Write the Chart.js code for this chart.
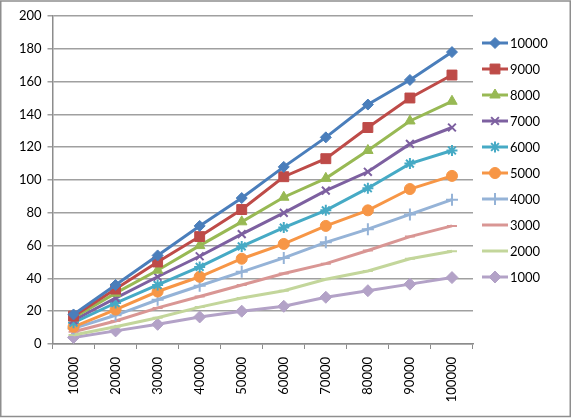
<!DOCTYPE html>
<html>
<head>
<meta charset="utf-8">
<script src="https://cdn.jsdelivr.net/npm/chart.js@4.4.1/dist/chart.umd.min.js"></script>
<style>
  html, body { margin: 0; padding: 0; background: #fff; }
  #wrap { width: 572px; height: 418px; position: relative; }
</style>
</head>
<body>
<div id="wrap"><canvas id="chart"></canvas></div>
<script>
const categories = ['10000', '20000', '30000', '40000', '50000', '60000', '70000', '80000', '90000', '100000'];
const yTicks = [0, 20, 40, 60, 80, 100, 120, 140, 160, 180, 200];

const s10000 = [18, 36, 54, 72, 89, 108, 126, 146, 161, 178];
const s9000 = [17, 33.5, 50, 65.5, 82, 102, 113, 132, 150, 164];
const s8000 = [16, 31, 45, 60, 74.5, 89.5, 101, 118, 136, 148];
const s7000 = [14.5, 28, 41, 53.5, 67, 80, 93.5, 105, 122, 132];
const s6000 = [13, 25, 36, 47, 59.5, 71, 81.5, 95, 110, 118];
const s5000 = [10.5, 21, 32, 41, 52, 61, 72, 81.5, 94.5, 102.5];
const s4000 = [9.5, 17.5, 27, 35.5, 44, 52.5, 62, 70, 79, 88];
const s3000 = [7.5, 14, 22, 29, 36, 43, 49, 57, 65.5, 72];
const s2000 = [5.5, 10.5, 16, 22.5, 28, 32.5, 39.5, 44.5, 52, 56.5];
const s1000 = [4, 8, 12, 16.5, 20, 23, 28.5, 32.5, 36.5, 40.5];

const seriesNames = ['10000', '9000', '8000', '7000', '6000', '5000', '4000', '3000', '2000', '1000'];
const seriesValues = [s10000, s9000, s8000, s7000, s6000, s5000, s4000, s3000, s2000, s1000];
const seriesColors = ['#4A7EBB', '#BE4B48', '#98B954', '#7D60A0', '#46AAC5', '#F79646', '#95B3D7', '#D99694', '#C3D69B', '#B3A2C7'];
const seriesMarkers = ['rectRot', 'rect', 'triangle', 'crossRot', 'star', 'circle', 'cross', 'line', 'line', 'rectRot'];
const markerSizes = [5.5, 7, 6, 5.5, 5.5, 5.5, 6, 5, 5, 6];

const FONT = 'Lato, "Liberation Sans", sans-serif';
const thinMarkers = ['crossRot', 'star', 'cross', 'line'];

const datasets = seriesNames.map((name, i) => ({
  label: name,
  data: seriesValues[i],
  borderColor: seriesColors[i],
  backgroundColor: seriesColors[i],
  borderWidth: 3,
  pointStyle: seriesMarkers[i],
  pointRadius: markerSizes[i],
  pointBorderWidth: thinMarkers.includes(seriesMarkers[i]) ? 2 : 1,
  tension: 0,
  fill: false,
}));

// Excel-like legend: short line with the marker on it
const sideLegend = {
  id: 'sideLegend',
  afterDraw(chart) {
    const ctx = chart.ctx;
    const x0 = 482, x1 = 508, top = 43, step = 26;
    ctx.save();
    chart.data.datasets.forEach((ds, i) => {
      const y = top + i * step;
      ctx.strokeStyle = ds.borderColor;
      ctx.lineWidth = 3;
      ctx.beginPath();
      ctx.moveTo(x0, y);
      ctx.lineTo(x1, y);
      ctx.stroke();
      ctx.fillStyle = ds.backgroundColor;
      ctx.lineWidth = ds.pointBorderWidth;
      Chart.helpers.drawPoint(ctx, {
        pointStyle: ds.pointStyle,
        radius: ds.pointRadius,
        rotation: 0,
        borderWidth: ds.pointBorderWidth,
      }, (x0 + x1) / 2, y);
      ctx.fillStyle = '#000';
      ctx.font = '13px ' + FONT;
      ctx.textBaseline = 'middle';
      ctx.textAlign = 'left';
      ctx.fillText(ds.label, 510, y + 1);
    });
    ctx.restore();
  }
};

// grey frame round the whole chart
const frame = {
  id: 'frame',
  beforeDraw(chart) {
    const ctx = chart.ctx;
    ctx.save();
    ctx.fillStyle = '#fff';
    ctx.fillRect(0, 0, chart.width, chart.height);
    ctx.strokeStyle = '#8e8e8e';
    ctx.lineWidth = 1.5;
    ctx.strokeRect(0.75, 1, 569.5, 415.5);
    ctx.restore();
  }
};

new Chart(document.getElementById('chart'), {
  type: 'line',
  data: { labels: categories, datasets },
  options: {
    responsive: true,
    maintainAspectRatio: false,
    animation: false,
    layout: { padding: { top: 16, right: 99, bottom: 0, left: 0 } },
    plugins: {
      legend: { display: false },
      tooltip: { enabled: false },
    },
    scales: {
      x: {
        type: 'category',
        offset: true,
        afterFit: s => { s.height = 74; },
        grid: { offset: true, drawOnChartArea: false, drawTicks: true, tickLength: 5, color: '#8c8c8c', lineWidth: 1 },
        border: { color: '#8c8c8c', width: 1.5 },
        ticks: { color: '#000', minRotation: 90, maxRotation: 90, autoSkip: false, padding: 8, font: { family: FONT, size: 13 } },
      },
      y: {
        min: 0,
        max: 200,
        afterFit: s => { s.width = 52.5; },
        afterBuildTicks: s => { s.ticks = yTicks.map(v => ({ value: v })); },
        grid: { color: '#a0a0a0', lineWidth: 1.5, tickLength: 5 },
        border: { color: '#8c8c8c', width: 1.5 },
        ticks: { color: '#000', padding: 6, font: { family: FONT, size: 13 } },
      },
    },
  },
  plugins: [frame, sideLegend],
});
</script>
</body>
</html>
